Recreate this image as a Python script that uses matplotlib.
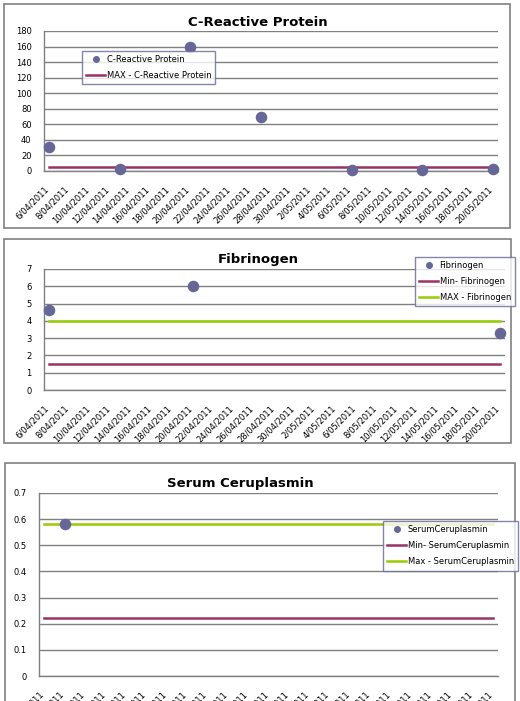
import datetime as dt
import matplotlib
matplotlib.use("Agg")
import matplotlib.pyplot as plt
import matplotlib.dates as mdates
from matplotlib.patches import Rectangle
from matplotlib.ticker import FuncFormatter, MultipleLocator
from matplotlib.transforms import ScaledTranslation

W, H = 520, 701

# --- data ---
crp_dates = ["2011-04-06", "2011-04-13", "2011-04-20", "2011-04-27",
             "2011-05-06", "2011-05-13", "2011-05-20"]
crp_values = [31, 2, 160, 70, 1, 1, 2]
crp_max = [5, 5, 5, 5, 5, 5, 5]

fib_dates = ["2011-04-06", "2011-04-20", "2011-05-20"]
fib_values = [4.65, 6.0, 3.3]
fib_min = [1.5, 1.5, 1.5]
fib_max = [4.0, 4.0, 4.0]

cer_dates = ["2011-04-08"]
cer_values = [0.58]
cer_line_dates = ["2011-04-06", "2011-05-20"]
cer_min = [0.22, 0.22]
cer_max = [0.58, 0.58]

axis_start = "2011-04-06"
axis_end = "2011-05-20"

MARK = "#666699"
MAROON = "#993366"
GREEN = "#99CC00"
GRID = "#808080"


def to_num(lst):
    return [mdates.date2num(dt.date.fromisoformat(d)) for d in lst]


def date_label(x, pos):
    d = mdates.num2date(x)
    return f"{d.day}/{d.month:02d}/{d.year}"


fig = plt.figure(figsize=(W / 100, H / 100), dpi=100)
fig.patch.set_facecolor("white")


def frame(x0, y0, x1, y1):
    fig.patches.append(Rectangle((x0 / W, 1 - y1 / H), (x1 - x0) / W, (y1 - y0) / H,
                                 transform=fig.transFigure, fill=False,
                                 edgecolor=GRID, linewidth=1.2))


def panel(box, ymax, ystep, title, title_xy, series, lines, leg_xy, yfmt=None):
    x0, y0, x1, y1 = box
    ax = fig.add_axes([x0 / W, 1 - y1 / H, (x1 - x0) / W, (y1 - y0) / H])
    for sp in ("top", "right"):
        ax.spines[sp].set_visible(False)
    for sp in ("left", "bottom"):
        ax.spines[sp].set_color(GRID)
        ax.spines[sp].set_linewidth(1.0)
    ax.yaxis.grid(True, color=GRID, linewidth=1.0)
    ax.set_axisbelow(True)
    dates, vals, lab = series
    ax.plot(to_num(dates), vals, linestyle="none", marker="o", markersize=7.3,
            color=MARK, label=lab, zorder=5, clip_on=False)
    for ldates, lvals, lcol, llab in lines:
        ax.plot(to_num(ldates), lvals, color=lcol, linewidth=1.8, label=llab, zorder=3)
    s, e = to_num([axis_start, axis_end])
    ax.set_xlim(s - 0.5, e + 0.5)
    ax.set_ylim(0, ymax)
    ax.yaxis.set_major_locator(MultipleLocator(ystep))
    if yfmt:
        ax.yaxis.set_major_formatter(FuncFormatter(yfmt))
    ax.set_xticks([s + 2 * i for i in range(23)])
    ax.xaxis.set_major_formatter(FuncFormatter(date_label))
    ax.tick_params(axis="both", length=0, labelsize=6, colors="black")
    ax.tick_params(axis="y", pad=9)
    ax.tick_params(axis="x", pad=10)
    off = ScaledTranslation(-5 / 100, 0, fig.dpi_scale_trans)
    for t in ax.get_xticklabels():
        t.set_rotation(45)
        t.set_ha("right")
        t.set_va("top")
        t.set_rotation_mode("anchor")
        t.set_transform(t.get_transform() + off)
    fig.text(title_xy[0] / W, 1 - title_xy[1] / H, title, ha="center", va="center",
             fontsize=9.5, fontweight="bold")
    hs, ls = ax.get_legend_handles_labels()
    leg = fig.legend(hs, ls, loc="upper left",
                     bbox_to_anchor=(leg_xy[0] / W, 1 - leg_xy[1] / H),
                     fontsize=6, frameon=True, fancybox=False, borderaxespad=0,
                     handlelength=2.3, handletextpad=0.15, labelspacing=0.85,
                     borderpad=0.5, markerscale=0.55)
    leg.get_frame().set_edgecolor(MARK)
    leg.get_frame().set_linewidth(1.0)
    return ax


frame(4, 4, 510, 228)
panel((44, 31, 498, 171), 180, 20, "C-Reactive Protein", (258, 22),
      (crp_dates, crp_values, "C-Reactive Protein"),
      [(crp_dates, crp_max, MAROON, "MAX - C-Reactive Protein")],
      (82, 51))

frame(4, 239, 511, 443)
panel((44, 269, 505, 390), 7, 1, "Fibrinogen", (258, 259),
      (fib_dates, fib_values, "Fibrinogen"),
      [(fib_dates, fib_min, MAROON, "Min- Fibrinogen"),
       (fib_dates, fib_max, GREEN, "MAX - Fibrinogen")],
      (415, 257))

frame(5, 463, 515, 720)
panel((39, 493, 498, 676), 0.7, 0.1, "Serum Ceruplasmin", (240, 484),
      (cer_dates, cer_values, "SerumCeruplasmin"),
      [(cer_line_dates, cer_min, MAROON, "Min- SerumCeruplasmin"),
       (cer_line_dates, cer_max, GREEN, "Max - SerumCeruplasmin")],
      (383, 521), yfmt=lambda v, p: "0" if abs(v) < 1e-9 else f"{v:.1f}")

fig.savefig("out.png", dpi=100)
